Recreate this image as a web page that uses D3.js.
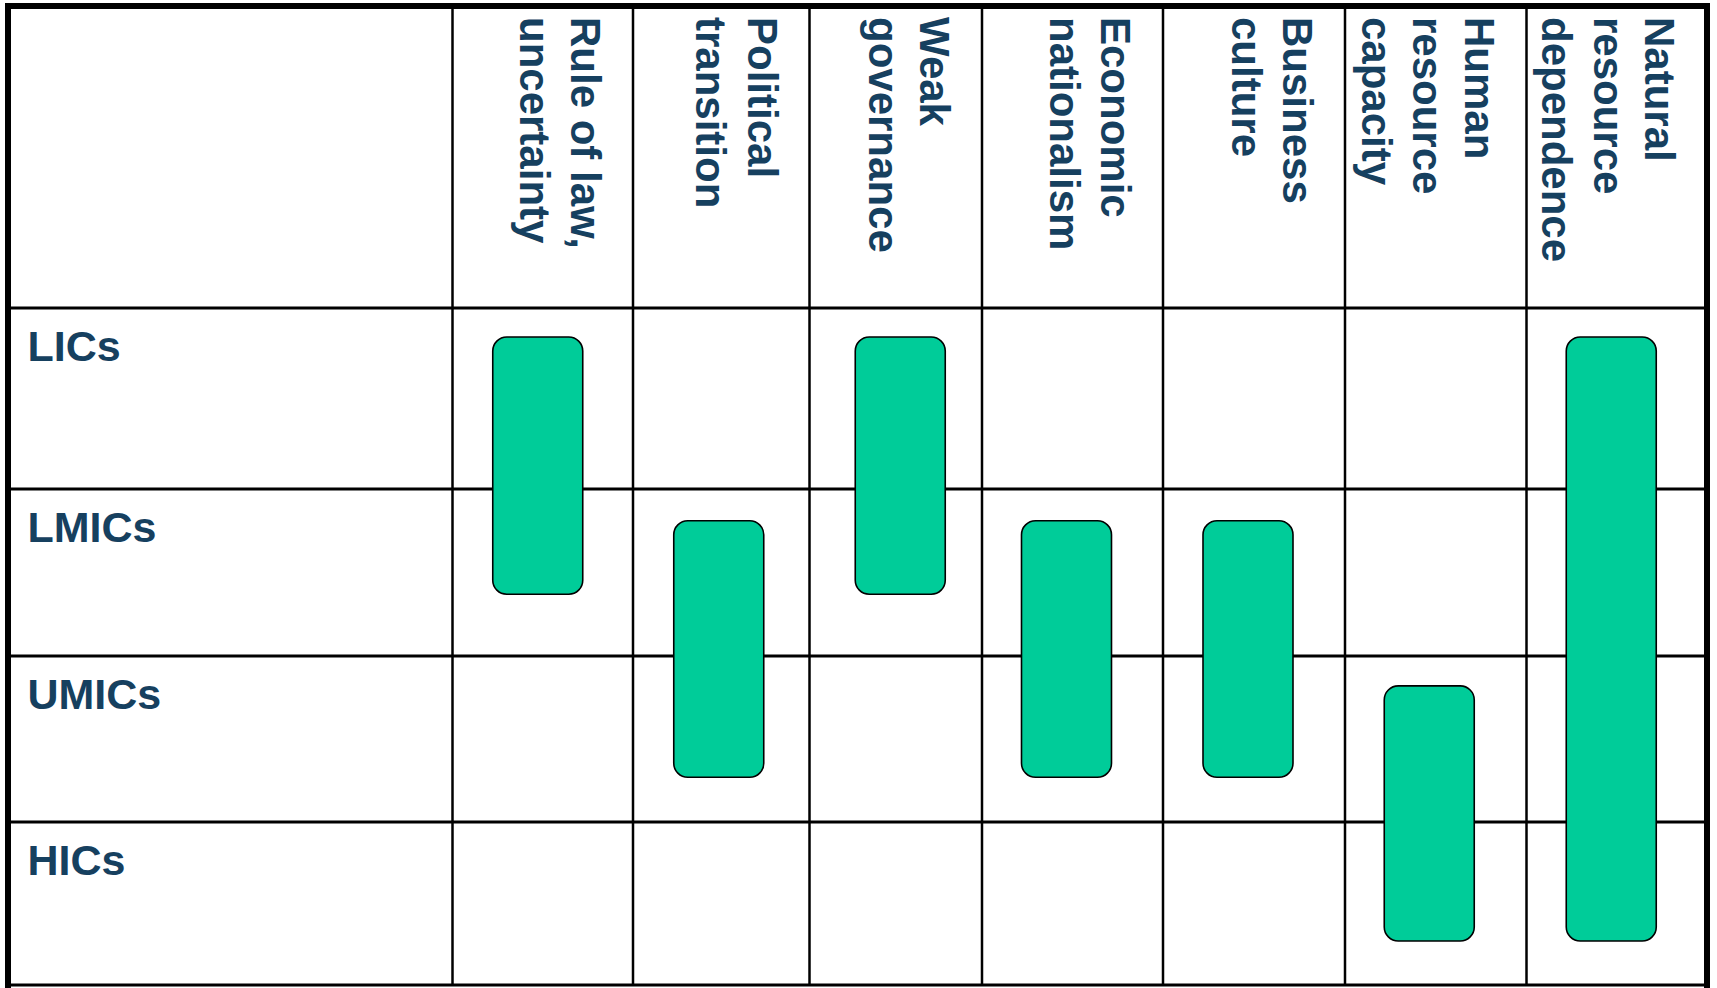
<!DOCTYPE html>
<html>
<head>
<meta charset="utf-8">
<script src="https://cdn.jsdelivr.net/npm/d3@7"></script>
<style>
  body { margin: 0; background: #fff; }
  text { font-family: "Liberation Sans", Arial, sans-serif; font-weight: bold; fill: #16405f; }
</style>
</head>
<body>
<script>
// income groups (rows)
var incomeGroups = ["LICs", "LMICs", "UMICs", "HICs"];

// risk factors (columns), one entry per header, split in lines
var riskFactors = [
  ["Rule of law,", "uncertainty"],
  ["Political", "transition"],
  ["Weak", "governance"],
  ["Economic", "nationalism"],
  ["Business", "culture"],
  ["Human", "resource", "capacity"],
  ["Natural", "resource", "dependence"]
];

// where each bar starts / ends on the income axis (0 = top of LICs, 4 = bottom of HICs)
var barStart = [0.16, 1.19, 0.16, 1.19, 1.19, 2.18, 0.16];
var barEnd   = [1.63, 2.73, 1.63, 2.73, 2.73, 3.73, 3.73];

// page layout
var larg = 1717, haut = 988;
var rowEdges = [308, 489, 656, 822, 985];          // header bottom + row borders
var colEdges = [452.5, 633, 809.5, 982, 1163, 1345, 1526.5, 1707];
var barShift = [-5, -2.5, 4.5, -6, -6, -6.5, -5.5];  // bars sit a bit off-centre
var barWidth = 90;
var lineGap = 51.5;

var svg = d3.select("body")
  .append("svg")
  .attr("width", larg)
  .attr("height", haut);

// scales (piecewise linear on row / column index)
var y = d3.scaleLinear().domain(d3.range(rowEdges.length)).range(rowEdges);
var x = d3.scaleLinear().domain(d3.range(colEdges.length)).range(colEdges);

// grid: horizontal lines
svg.selectAll("line.h")
  .data(d3.range(rowEdges.length))
  .enter()
  .append("line")
  .attr("x1", 8).attr("x2", 1707)
  .attr("y1", function(d) { return y(d); })
  .attr("y2", function(d) { return y(d); })
  .attr("stroke", "#000")
  .attr("stroke-width", 3);

// grid: vertical lines
svg.selectAll("line.v")
  .data(d3.range(colEdges.length - 1))
  .enter()
  .append("line")
  .attr("x1", function(d) { return x(d); })
  .attr("x2", function(d) { return x(d); })
  .attr("y1", 6).attr("y2", y(4))
  .attr("stroke", "#000")
  .attr("stroke-width", 2.5);

// outer frame
svg.append("rect")
  .attr("x", 8).attr("y", 6)
  .attr("width", 1707 - 8).attr("height", 992)
  .attr("fill", "none")
  .attr("stroke", "#000")
  .attr("stroke-width", 6);

// row labels
svg.selectAll("text.row")
  .data(incomeGroups)
  .enter()
  .append("text")
  .attr("class", "row")
  .attr("x", 27.5)
  .attr("y", function(d, i) { return y(i) + 52.5; })
  .style("font-size", "43px")
  .text(function(d) { return d; });

// column headers, rotated
var heads = svg.selectAll("text.head")
  .data(riskFactors)
  .enter()
  .append("text")
  .attr("class", "head")
  .attr("transform", function(d, i) {
    return "translate(" + (x(i + 1) - 62) + ",17) rotate(90)";
  })
  .style("font-size", "42px");

heads.selectAll("tspan")
  .data(function(d) { return d; })
  .enter()
  .append("tspan")
  .attr("x", 0)
  .attr("y", function(d, i) { return i * lineGap; })
  .text(function(d) { return d; });

// bars
svg.selectAll("rect.bar")
  .data(riskFactors)
  .enter()
  .append("rect")
  .attr("class", "bar")
  .attr("x", function(d, i) { return (x(i) + x(i + 1)) / 2 + barShift[i] - barWidth / 2; })
  .attr("y", function(d, i) { return y(barStart[i]); })
  .attr("width", barWidth)
  .attr("height", function(d, i) { return y(barEnd[i]) - y(barStart[i]); })
  .attr("rx", 14).attr("ry", 14)
  .attr("fill", "#00cc99")
  .attr("stroke", "#000")
  .attr("stroke-width", 1.6);
</script>
</body>
</html>
